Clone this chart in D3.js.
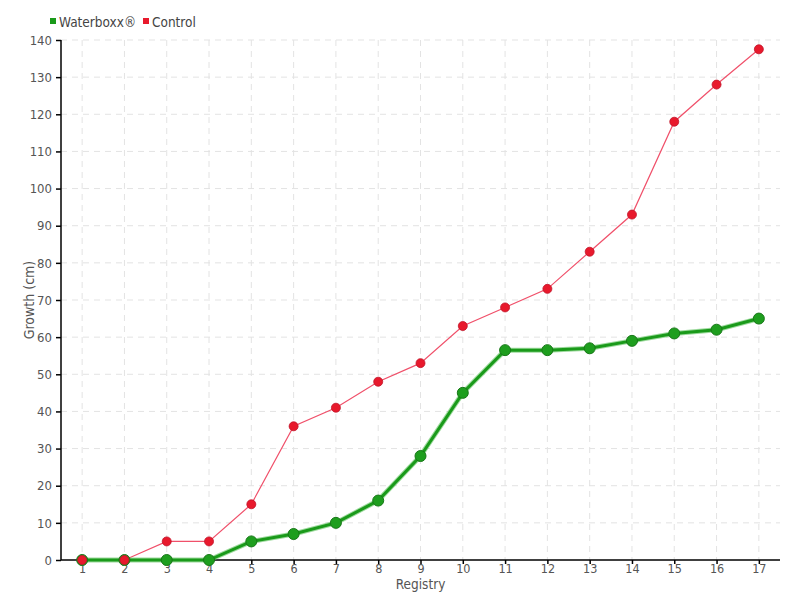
<!DOCTYPE html>
<html><head><meta charset="utf-8">
<script src="https://cdn.jsdelivr.net/npm/d3@7/dist/d3.min.js"></script>
<style>
body{margin:0;background:#fff;}
text{font-family:"DejaVu Sans Condensed","DejaVu Sans",sans-serif;}
</style></head>
<body><svg id="c" width="800" height="600"></svg>
<script>
const categories = ["1","2","3","4","5","6","7","8","9","10","11","12","13","14","15","16","17"];
const waterboxx = [0,0,0,0,5,7,10,16,28,45,56.5,56.5,57,59,61,62,65];
const control = [0,0,5,5,15,36,41,48,53,63,68,73,83,93,118,128,137.5];
const yTicks = [0,10,20,30,40,50,60,70,80,90,100,110,120,130,140];
const seriesNames = ["Waterboxx®","Control"];

const svg = d3.select("#c");
const L=61,R=780,T=40,B=560;
const x = d3.scalePoint().domain(categories).range([L,R]).padding(0.5);
const y = d3.scaleLinear().domain([0,140]).range([B,T]);

const grid = svg.append("g");
grid.selectAll("line.h").data(yTicks.slice(1)).join("line")
  .attr("x1",L).attr("x2",R).attr("y1",d=>y(d)).attr("y2",d=>y(d))
  .attr("stroke","#e3e3e3").attr("stroke-dasharray","6,5");
grid.selectAll("line.v").data(categories).join("line")
  .attr("x1",d=>x(d)).attr("x2",d=>x(d)).attr("y1",T).attr("y2",B)
  .attr("stroke","#e3e3e3").attr("stroke-dasharray","6,5");

const yAx = svg.append("g").attr("transform",`translate(${L},0)`)
  .call(d3.axisLeft(y).tickValues(yTicks).tickSize(5).tickPadding(4));
const xAx = svg.append("g").attr("transform",`translate(0,${B})`)
  .call(d3.axisBottom(x).tickSize(4).tickPadding(2));
[yAx,xAx].forEach(a=>{
  a.select(".domain").attr("stroke","#000").attr("stroke-width",1.5);
  a.selectAll(".tick line").attr("stroke","#000").attr("stroke-width",1.5);
  a.selectAll("text").attr("fill","#555").attr("font-size",13);
});
xAx.selectAll(".tick text").attr("y",4).attr("font-size",12.5);
xAx.select(".domain").attr("d",`M${L},0H${R}`);
yAx.select(".domain").attr("d",`M0,${B}V${T}`);

svg.append("text").attr("transform",`translate(34,${(T+B)/2}) rotate(-90)`)
  .attr("text-anchor","middle").attr("fill","#555").attr("font-size",14).text("Growth (cm)");
svg.append("text").attr("x",(L+R)/2).attr("y",589)
  .attr("text-anchor","middle").attr("fill","#555").attr("font-size",13.5).text("Registry");

const line = d3.line().x((d,i)=>x(categories[i])).y(d=>y(d));
// control
svg.append("path").datum(control).attr("d",line).attr("fill","none")
  .attr("stroke","#f0506a").attr("stroke-width",1.2);
// waterboxx
svg.append("path").datum(waterboxx).attr("d",line).attr("fill","none")
  .attr("stroke","#5cc25c").attr("stroke-width",5).attr("opacity",0.6);
svg.append("path").datum(waterboxx).attr("d",line).attr("fill","none")
  .attr("stroke","#1a9a1a").attr("stroke-width",3);
svg.append("g").selectAll("circle").data(waterboxx).join("circle")
  .attr("cx",(d,i)=>x(categories[i])).attr("cy",d=>y(d)).attr("r",5.5)
  .attr("fill","#1e9e1e").attr("stroke","#187818").attr("stroke-width",1);
svg.append("g").selectAll("circle").data(control).join("circle")
  .attr("cx",(d,i)=>x(categories[i])).attr("cy",d=>y(d)).attr("r",4.5)
  .attr("fill","#e8192c").attr("stroke","#c0142a").attr("stroke-width",0.8);

// legend
const colors=["#1a9a1a","#e8192c"];
const lg = svg.append("g");
const lx=[50,143];
seriesNames.forEach((n,i)=>{
  lg.append("rect").attr("x",lx[i]).attr("y",18).attr("width",6).attr("height",6).attr("fill",colors[i]);
  lg.append("text").attr("x",lx[i]+9).attr("y",27).attr("fill","#444").attr("font-size",13.5).text(n);
});
</script></body></html>
